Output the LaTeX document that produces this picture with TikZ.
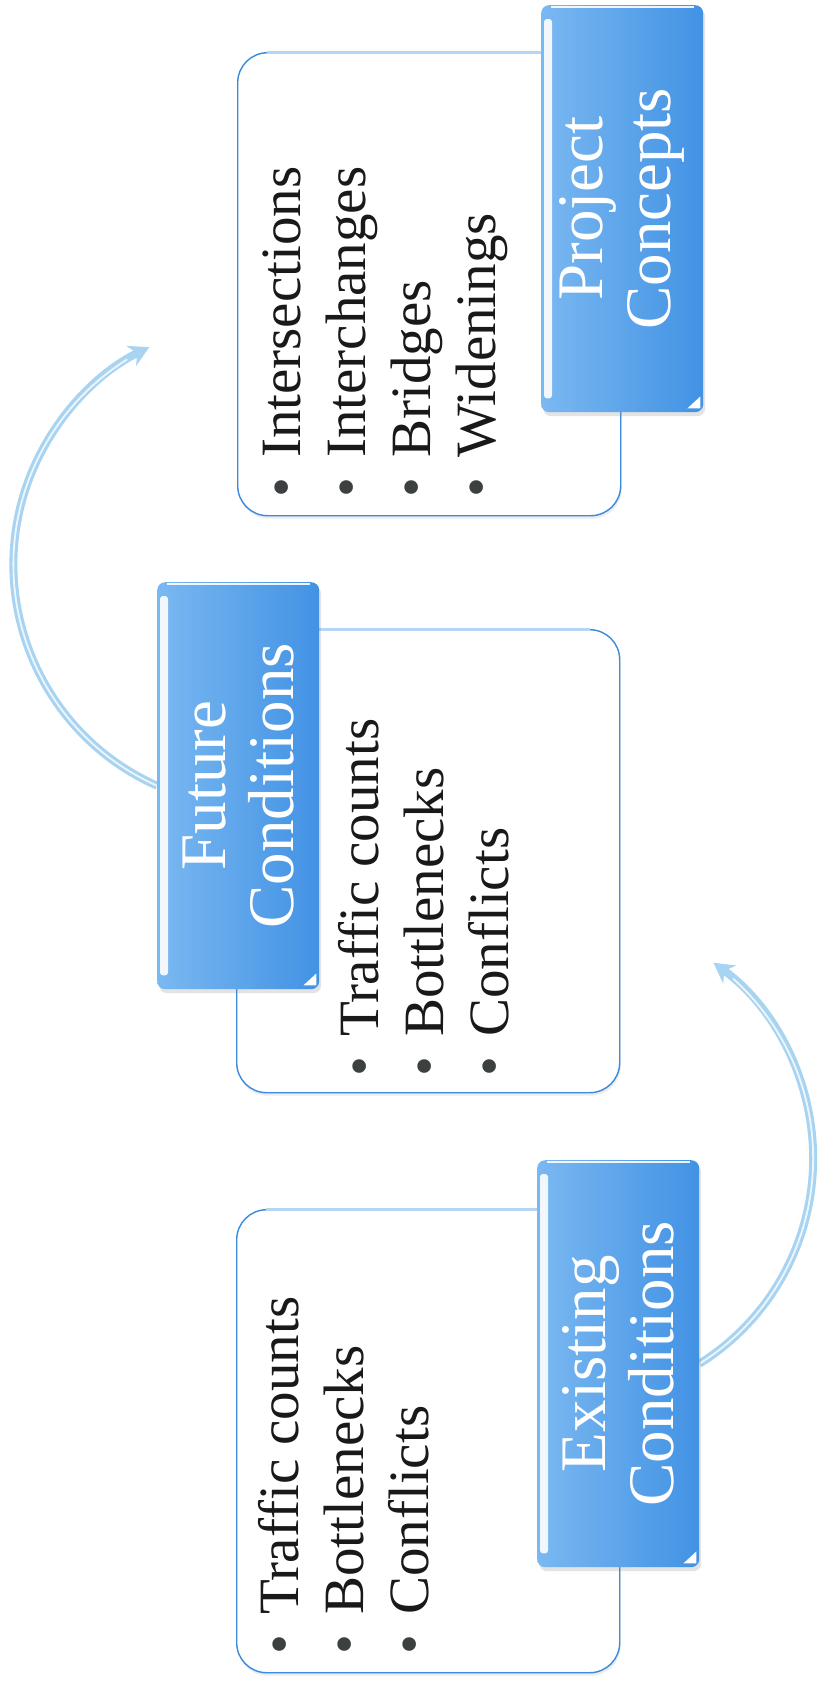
\documentclass[tikz,border=0pt]{standalone}
\usepackage{fontspec}
\setmainfont{Liberation Serif}
\usetikzlibrary{arrows.meta,shadows,backgrounds}
\definecolor{boxblue}{RGB}{58,138,222}
\definecolor{boxlight}{RGB}{178,214,245}
\definecolor{tabdark}{RGB}{66,146,228}
\definecolor{tablight}{RGB}{122,184,241}
\definecolor{arcblue}{RGB}{168,212,242}
\definecolor{bodytext}{RGB}{25,25,25}
\definecolor{bulletgray}{RGB}{60,64,64}
\newcommand\bitem[1]{\makebox[40pt][l]{\textcolor{bulletgray}{\textbullet}}#1}
\newcommand\tabgloss[1]{%
  \fill[white,opacity=0.9,rounded corners=3pt] ([xshift=3pt,yshift=-14pt]#1.north west) rectangle ([xshift=11pt,yshift=14pt]#1.south west);
  \draw[white,line width=1.5pt,opacity=0.9] ([xshift=10pt,yshift=-2pt]#1.north west) -- ([xshift=-9pt,yshift=-2pt]#1.north east);
  \fill[white] ([xshift=-16pt,yshift=4pt]#1.south east) -- ([xshift=-3pt,yshift=4pt]#1.south east) -- ([xshift=-3pt,yshift=16pt]#1.south east) -- cycle;
}
\begin{document}
\begin{tikzpicture}[x=1pt,y=-1pt,
  whitebox/.style={draw=boxblue,line width=1.4pt,fill=white,rounded corners=30pt,
    minimum width=383pt,minimum height=463pt,anchor=north west,inner sep=0pt,
    drop shadow={shadow xshift=1pt,shadow yshift=-3pt,opacity=0.15}},
  tabbox/.style={rounded corners=8pt,minimum width=162pt,minimum height=407pt,
    anchor=north west,inner sep=0pt,left color=tablight,right color=tabdark,draw=none,
    drop shadow={shadow xshift=2pt,shadow yshift=-4pt,opacity=0.22}},
  tabtext/.style={rotate=90,text=white,align=center,inner sep=0pt,
    font=\fontsize{65}{68}\selectfont},
  bodytxt/.style={rotate=90,anchor=base west,inner sep=0pt,text=bodytext,
    font=\fontsize{57}{65}\selectfont},
  toplight/.style={draw=boxlight,line width=1.8pt},
  tube/.style={draw=arcblue,line width=8pt},
  shine/.style={draw=white,line width=1.8pt,opacity=0.8},
]
\useasboundingbox (0,0) rectangle (823,1684);
\begin{pgfonlayer}{background}
  \fill[white] (0,0) rectangle (823,1684);
\end{pgfonlayer}

% Project Concepts
\node[whitebox] (pBox) at (237,52) {};
\draw[toplight] ([xshift=30pt]pBox.north west) -- ([xshift=-30pt]pBox.north east);
\node[bodytxt] (pTxt) at (300,498) {\begin{tabular}[t]{@{}l@{}}\bitem{Intersections}\\ \bitem{Interchanges}\\ \bitem{Bridges}\\ \bitem{Widenings}\end{tabular}};
\node[tabbox] (pTab) at (541,5) {};
\tabgloss{pTab}
\node[tabtext] (pHead) at (pTab.center) {Project\\Concepts};

% Future Conditions
\node[whitebox] (fBox) at (236,629) {};
\draw[toplight] ([xshift=30pt]fBox.north west) -- ([xshift=-30pt]fBox.north east);
\node[bodytxt] (fTxt) at (378,1077) {\begin{tabular}[t]{@{}l@{}}\bitem{Traffic counts}\\ \bitem{Bottlenecks}\\ \bitem{Conflicts}\end{tabular}};
\node[tabbox] (fTab) at (157,582) {};
\tabgloss{fTab}
\node[tabtext] (fHead) at (fTab.center) {Future\\Conditions};

% Existing Conditions
\node[whitebox] (eBox) at (236,1209) {};
\draw[toplight] ([xshift=30pt]eBox.north west) -- ([xshift=-30pt]eBox.north east);
\node[bodytxt] (eTxt) at (298,1655) {\begin{tabular}[t]{@{}l@{}}\bitem{Traffic counts}\\ \bitem{Bottlenecks}\\ \bitem{Conflicts}\end{tabular}};
\node[tabbox] (eTab) at (537,1160) {};
\tabgloss{eTab}
\node[tabtext] (eHead) at (eTab.center) {Existing\\Conditions};

% circular arrows
\begin{pgfonlayer}{background}
  \draw[tube,-{Stealth[length=20pt,width=22pt]}] (fTab.west) arc[start angle=114,end angle=244,radius=242];
  \draw[shine] (fTab.west) arc[start angle=114,end angle=238,radius=242];
  \draw[tube,-{Stealth[length=20pt,width=22pt]}] (eTab.east) arc[start angle=58,end angle=-54,radius=242];
  \draw[shine] (eTab.east) arc[start angle=58,end angle=-48,radius=242];
\end{pgfonlayer}
\end{tikzpicture}
\end{document}
